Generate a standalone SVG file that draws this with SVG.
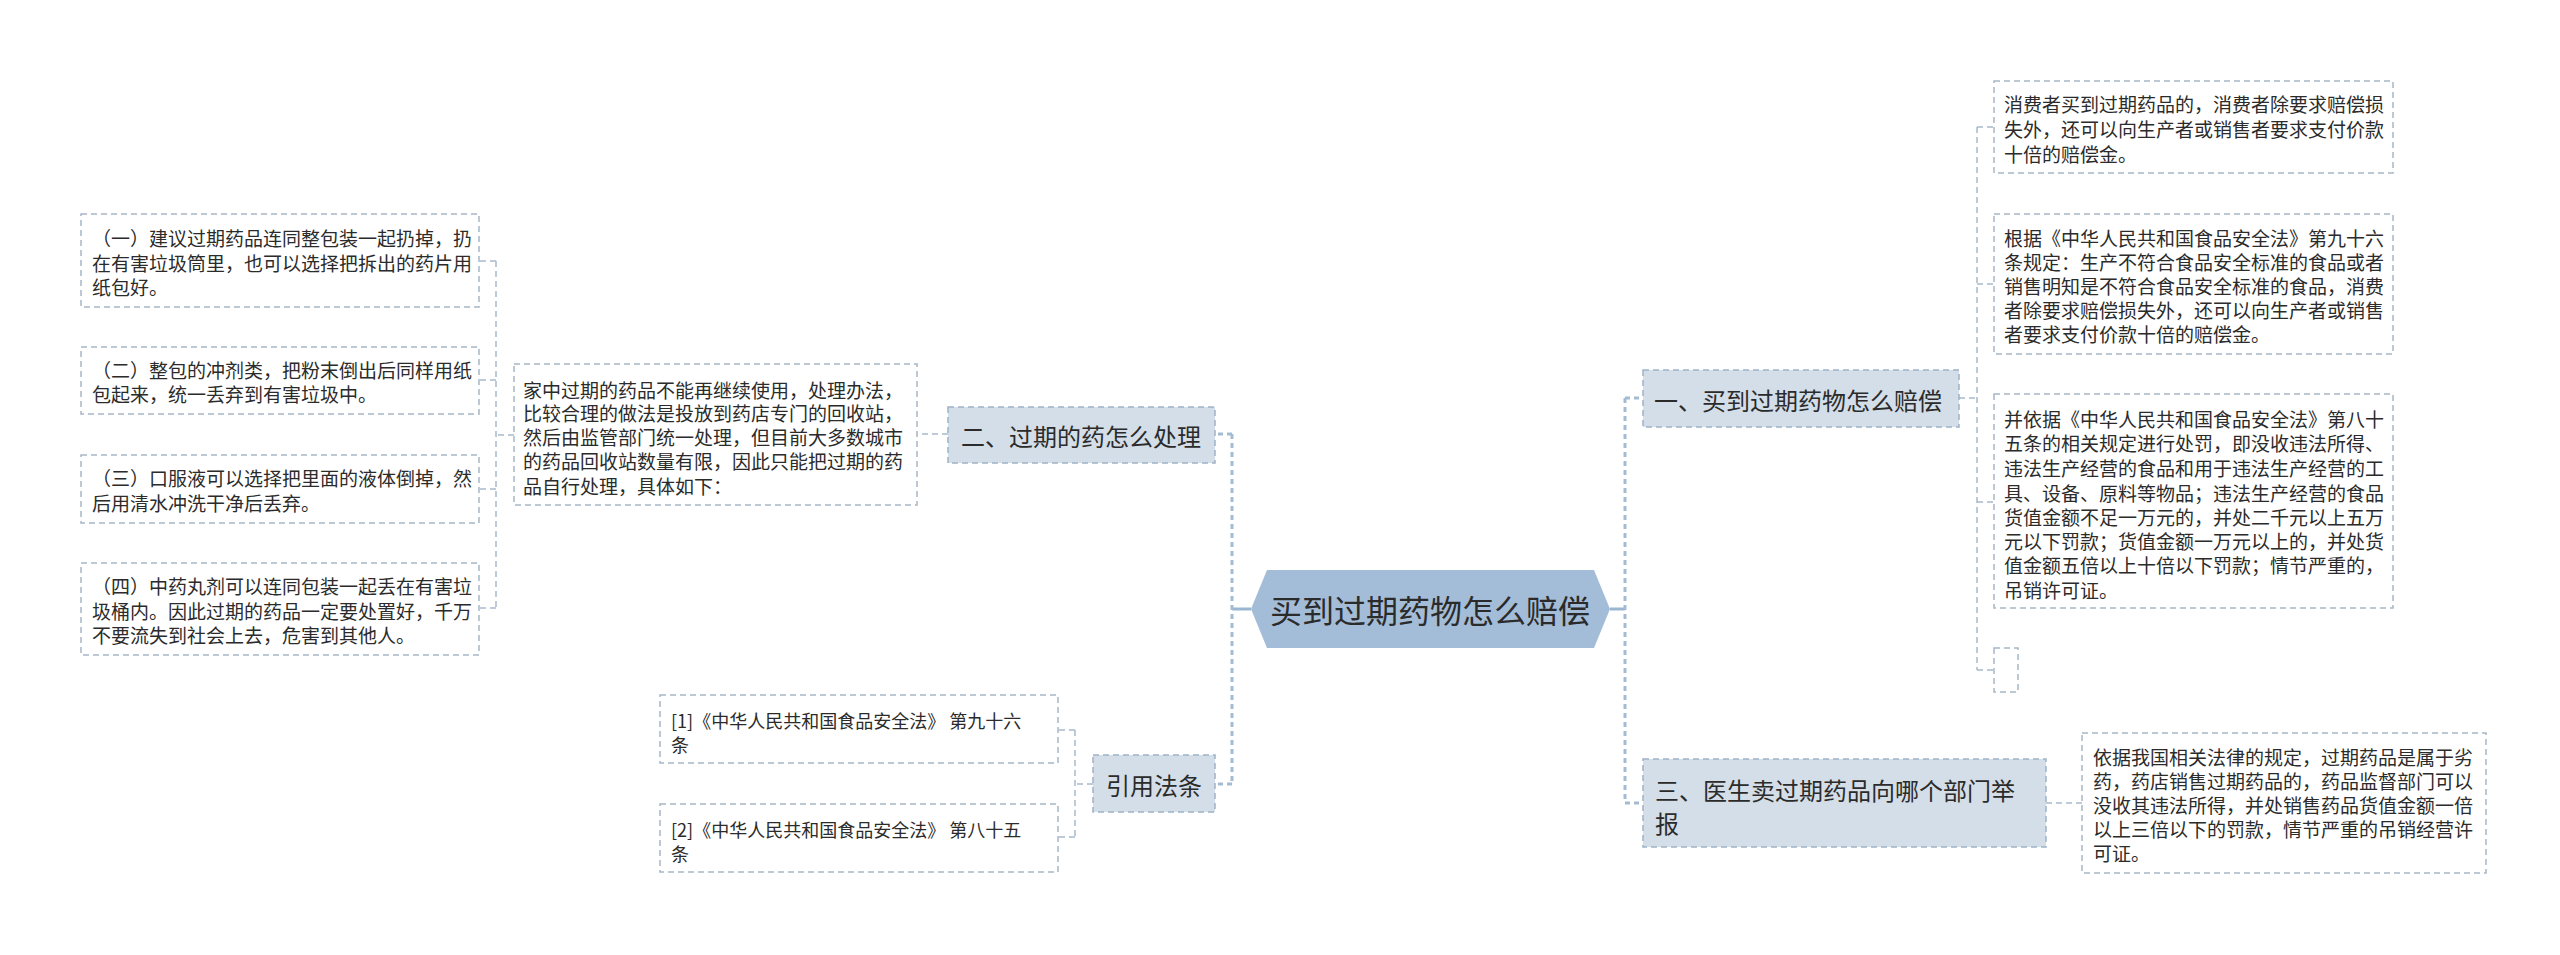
<svg xmlns="http://www.w3.org/2000/svg" width="2560" height="955" viewBox="0 0 2560 955">
<style>
.t{font-family:"Noto Sans CJK SC","Microsoft YaHei",sans-serif;fill:#2b2b2b;dominant-baseline:central}
.s19{font-size:19px}
.s18{font-size:18px}
.s24{font-size:24px}
.s32{font-size:32px}
.leaf{fill:#ffffff;stroke:#a6b6c6;stroke-width:1.5;stroke-dasharray:6 4}
.br{fill:#d3dee8;stroke:#9fb2c5;stroke-width:1.5;stroke-dasharray:6 4}
.main{stroke:#9bb6d1;stroke-width:3;fill:none}
.trunk{stroke:#a4bbd1;stroke-width:3;fill:none;stroke-dasharray:5 4}
.sub{stroke:#a8bbcd;stroke-width:1.5;fill:none;stroke-dasharray:6 4}
</style>
<rect width="2560" height="955" fill="#ffffff"/>
<g id="connectors">
<path class="main" d="M1610 609H1625M1251 609H1232"/>
<path class="trunk" d="M1625 398V803M1625 398H1643M1625 803H1643M1232 434V784M1232 434H1215M1232 784H1215"/>
<path class="sub" d="M1959 398H1977M1977 127V670M1977 127H1994M1977 284H1994M1977 502H1994M1977 670H1994"/>
<path class="sub" d="M2046 803H2082"/>
<path class="sub" d="M948 434H917"/>
<path class="sub" d="M514 435H496M496 261V608M496 261H479M496 380H479M496 489H479M496 608H479"/>
<path class="sub" d="M1093 784H1075M1075 730V837M1075 730H1058M1075 837H1058"/>
</g>
<g id="root">
<polygon points="1251,609 1267,570 1594,570 1610,609 1594,648 1267,648" fill="#a3bdd8"/>
<text class="t s32" x="1430" y="609" text-anchor="middle">买到过期药物怎么赔偿</text>
</g>
<g id="b1">
<rect class="br" x="1643" y="370" width="316" height="57"/>
<text class="t s24" x="1654" y="399">一、买到过期药物怎么赔偿</text>
</g>
<g id="c1">
<rect class="leaf" x="1994" y="81" width="399" height="92"/>
<text class="t s19" x="2004"><tspan x="2004" y="103">消费者买到过期药品的，消费者除要求赔偿损</tspan><tspan x="2004" y="128">失外，还可以向生产者或销售者要求支付价款</tspan><tspan x="2004" y="153">十倍的赔偿金。</tspan></text>
</g>
<g id="c2">
<rect class="leaf" x="1994" y="214" width="399" height="140"/>
<text class="t s19" x="2004"><tspan x="2004" y="237">根据《中华人民共和国食品安全法》第九十六</tspan><tspan x="2004" y="261">条规定：生产不符合食品安全标准的食品或者</tspan><tspan x="2004" y="285">销售明知是不符合食品安全标准的食品，消费</tspan><tspan x="2004" y="309">者除要求赔偿损失外，还可以向生产者或销售</tspan><tspan x="2004" y="333">者要求支付价款十倍的赔偿金。</tspan></text>
</g>
<g id="c3">
<rect class="leaf" x="1994" y="394" width="399" height="214"/>
<text class="t s19" x="2004"><tspan x="2004" y="418">并依据《中华人民共和国食品安全法》第八十</tspan><tspan x="2004" y="442">五条的相关规定进行处罚，即没收违法所得、</tspan><tspan x="2004" y="467">违法生产经营的食品和用于违法生产经营的工</tspan><tspan x="2004" y="492">具、设备、原料等物品；违法生产经营的食品</tspan><tspan x="2004" y="516">货值金额不足一万元的，并处二千元以上五万</tspan><tspan x="2004" y="540">元以下罚款；货值金额一万元以上的，并处货</tspan><tspan x="2004" y="564">值金额五倍以上十倍以下罚款；情节严重的，</tspan><tspan x="2004" y="589">吊销许可证。</tspan></text>
</g>
<g id="c4">
<rect class="leaf" x="1994" y="648" width="24" height="44"/>
</g>
<g id="b3">
<rect class="br" x="1643" y="759" width="403" height="88"/>
<text class="t s24" x="1655"><tspan x="1655" y="789">三、医生卖过期药品向哪个部门举</tspan><tspan x="1655" y="822">报</tspan></text>
</g>
<g id="b3c1">
<rect class="leaf" x="2082" y="733" width="404" height="140"/>
<text class="t s19" x="2093"><tspan x="2093" y="756">依据我国相关法律的规定，过期药品是属于劣</tspan><tspan x="2093" y="780">药，药店销售过期药品的，药品监督部门可以</tspan><tspan x="2093" y="804">没收其违法所得，并处销售药品货值金额一倍</tspan><tspan x="2093" y="828">以上三倍以下的罚款，情节严重的吊销经营许</tspan><tspan x="2093" y="852">可证。</tspan></text>
</g>
<g id="b2">
<rect class="br" x="948" y="407" width="267" height="56"/>
<text class="t s24" x="1081" y="435" text-anchor="middle">二、过期的药怎么处理</text>
</g>
<g id="b2c1">
<rect class="leaf" x="514" y="364" width="403" height="141"/>
<text class="t s19" x="523"><tspan x="523" y="389">家中过期的药品不能再继续使用，处理办法，</tspan><tspan x="523" y="412">比较合理的做法是投放到药店专门的回收站，</tspan><tspan x="523" y="436">然后由监管部门统一处理，但目前大多数城市</tspan><tspan x="523" y="460">的药品回收站数量有限，因此只能把过期的药</tspan><tspan x="523" y="485">品自行处理，具体如下：</tspan></text>
</g>
<g id="l1">
<rect class="leaf" x="81" y="214" width="398" height="93"/>
<text class="t s19" x="92"><tspan x="92" y="237">（一）建议过期药品连同整包装一起扔掉，扔</tspan><tspan x="92" y="262">在有害垃圾筒里，也可以选择把拆出的药片用</tspan><tspan x="92" y="286">纸包好。</tspan></text>
</g>
<g id="l2">
<rect class="leaf" x="81" y="347" width="398" height="67"/>
<text class="t s19" x="92"><tspan x="92" y="369">（二）整包的冲剂类，把粉末倒出后同样用纸</tspan><tspan x="92" y="393">包起来，统一丢弃到有害垃圾中。</tspan></text>
</g>
<g id="l3">
<rect class="leaf" x="81" y="455" width="398" height="68"/>
<text class="t s19" x="92"><tspan x="92" y="477">（三）口服液可以选择把里面的液体倒掉，然</tspan><tspan x="92" y="502">后用清水冲洗干净后丢弃。</tspan></text>
</g>
<g id="l4">
<rect class="leaf" x="81" y="563" width="398" height="92"/>
<text class="t s19" x="92"><tspan x="92" y="585">（四）中药丸剂可以连同包装一起丢在有害垃</tspan><tspan x="92" y="610">圾桶内。因此过期的药品一定要处置好，千万</tspan><tspan x="92" y="634">不要流失到社会上去，危害到其他人。</tspan></text>
</g>
<g id="b4">
<rect class="br" x="1093" y="755" width="122" height="57"/>
<text class="t s24" x="1154" y="784" text-anchor="middle">引用法条</text>
</g>
<g id="r1">
<rect class="leaf" x="660" y="695" width="398" height="68"/>
<text class="t s18" x="671"><tspan x="671" y="720">[1]《中华人民共和国食品安全法》 第九十六</tspan><tspan x="671" y="744">条</tspan></text>
</g>
<g id="r2">
<rect class="leaf" x="660" y="804" width="398" height="68"/>
<text class="t s18" x="671"><tspan x="671" y="829">[2]《中华人民共和国食品安全法》 第八十五</tspan><tspan x="671" y="853">条</tspan></text>
</g>
</svg>
